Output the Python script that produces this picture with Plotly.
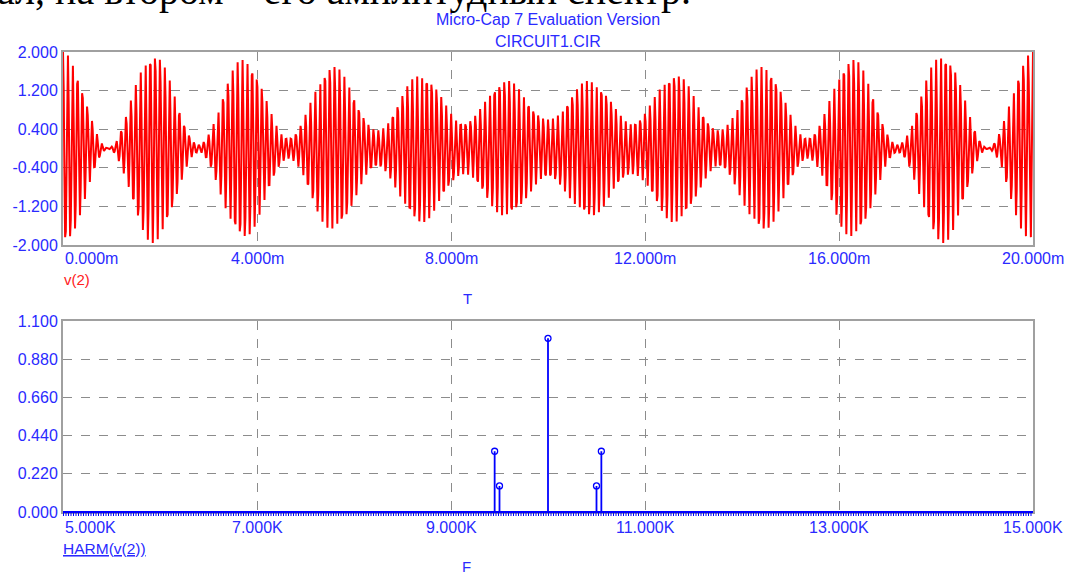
import numpy as np
import plotly.graph_objects as go

# ---------------- data ----------------
# Harmonic spectrum HARM(v(2)) (lower panel): frequency in Hz, amplitude
harm_freq_hz = [9450, 9500, 10000, 10500, 10550]
harm_amp = [0.35, 0.15, 1.00, 0.15, 0.35]

# Upper panel axes
time_range_ms = [0, 20]
time_ticks_ms = [0, 4, 8, 12, 16, 20]
time_tick_labels = ["0.000m", "4.000m", "8.000m", "12.000m", "16.000m", "20.000m"]
v_ticks = [-2.0, -1.2, -0.4, 0.4, 1.2, 2.0]
v_tick_labels = ["-2.000", "-1.200", "-0.400", "0.400", "1.200", "2.000"]

# Lower panel axes
freq_ticks_k = [5, 7, 9, 11, 13, 15]
freq_tick_labels = ["5.000K", "7.000K", "9.000K", "11.000K", "13.000K", "15.000K"]
h_ticks = [0.0, 0.22, 0.44, 0.66, 0.88, 1.10]
h_tick_labels = ["0.000", "0.220", "0.440", "0.660", "0.880", "1.100"]

title_lines = ["Micro-Cap 7 Evaluation Version", "CIRCUIT1.CIR"]
doc_text = "ал, на втором \u2013 его амплитудный спектр."

# v(2) in the time domain is the sum of the spectral lines above
# (simulator output sampled on the transient time grid)
t_s = np.linspace(0, 0.02, 1373)
v2 = np.zeros_like(t_s)
for f, a in zip(harm_freq_hz, harm_amp):
    v2 += a * np.cos(2 * np.pi * f * t_s)

# ---------------- layout geometry (pixels) ----------------
W, H = 1067, 574
ML, MR, MT, MB = 61, 34, 52, 62
PW, PH = W - ML - MR, H - MT - MB


def py(y):
    return 1 - (y - MT) / PH


def px(x):
    return (x - ML) / PW


top_dom = [py(245), 1.0]
bot_dom = [0.0, py(321)]

BLUE_TXT = "#2a2aff"
GRID = "#8c8c8c"
FRAME = "#a0a0a0"
FONT = "Liberation Sans, Arial, sans-serif"
TICK_SIZE = 16

fig = go.Figure()

fig.add_trace(go.Scatter(x=t_s * 1000, y=v2, mode="lines",
                         line=dict(color="#ff0000", width=2),
                         xaxis="x", yaxis="y", showlegend=False,
                         hoverinfo="skip"))

stem_x, stem_y = [], []
for f, a in zip(harm_freq_hz, harm_amp):
    stem_x += [f / 1000, f / 1000, None]
    stem_y += [0, a, None]
fig.add_trace(go.Scatter(x=stem_x, y=stem_y, mode="lines",
                         line=dict(color="#0000ff", width=1.8),
                         xaxis="x2", yaxis="y2", showlegend=False,
                         hoverinfo="skip"))
fig.add_trace(go.Scatter(x=[f / 1000 for f in harm_freq_hz], y=harm_amp,
                         mode="markers",
                         marker=dict(symbol="circle-open", size=6,
                                     color="#0000ff", line=dict(width=1.3)),
                         xaxis="x2", yaxis="y2", showlegend=False,
                         hoverinfo="skip", cliponaxis=False))

ax_common = dict(showgrid=True, gridcolor=GRID, griddash="dash", gridwidth=1,
                 showline=True, linecolor=FRAME, linewidth=2, mirror=True,
                 zeroline=False, ticks="", fixedrange=True)

fig.update_layout(
    width=W, height=H,
    margin=dict(l=ML, r=MR, t=MT, b=MB),
    paper_bgcolor="white", plot_bgcolor="white",
    font=dict(family=FONT, color=BLUE_TXT, size=TICK_SIZE),
    xaxis=dict(domain=[0, 1], anchor="y", range=time_range_ms,
               tickvals=time_ticks_ms, showticklabels=False, **ax_common),
    yaxis=dict(domain=top_dom, anchor="x", range=[-2, 2],
               tickvals=v_ticks, ticktext=v_tick_labels,
               tickfont=dict(size=TICK_SIZE, color=BLUE_TXT), **ax_common),
    xaxis2=dict(domain=[0, 1], anchor="y2", range=[5, 15],
                tickvals=freq_ticks_k, showticklabels=False, **ax_common),
    yaxis2=dict(domain=bot_dom, anchor="x2", range=[0, 1.1],
                tickvals=h_ticks, ticktext=h_tick_labels,
                tickfont=dict(size=TICK_SIZE, color=BLUE_TXT), **ax_common),
)

ann = []
# x tick labels (first one left-aligned as in Micro-Cap)
for i, (v, lab) in enumerate(zip(time_ticks_ms, time_tick_labels)):
    ann.append(dict(x=v, y=py(258), xref="x", yref="paper", text=lab,
                    showarrow=False, xanchor="left" if i == 0 else "center",
                    yanchor="middle", font=dict(size=TICK_SIZE, color=BLUE_TXT)))
for i, (v, lab) in enumerate(zip(freq_ticks_k, freq_tick_labels)):
    ann.append(dict(x=v, y=py(527), xref="x2", yref="paper", text=lab,
                    showarrow=False, xanchor="left" if i == 0 else "center",
                    yanchor="middle", font=dict(size=TICK_SIZE, color=BLUE_TXT)))

# titles
for txt, yy in zip(title_lines, [20, 41]):
    ann.append(dict(x=0.5, y=py(yy), xref="paper", yref="paper", text=txt,
                    showarrow=False, xanchor="center", yanchor="middle",
                    font=dict(size=16, color=BLUE_TXT)))

# axis / curve labels
ann.append(dict(x=px(60), y=py(279), xref="paper", yref="paper", text="v(2)",
                showarrow=False, xanchor="left", yanchor="middle",
                font=dict(size=15, color="#ff2020")))
ann.append(dict(x=px(466), y=py(298), xref="paper", yref="paper", text="T",
                showarrow=False, xanchor="center", yanchor="middle",
                font=dict(size=15, color=BLUE_TXT)))
ann.append(dict(x=px(59), y=py(548), xref="paper", yref="paper",
                text="<u>HARM(v(2))</u>", showarrow=False, xanchor="left",
                yanchor="middle", font=dict(size=15.5, color=BLUE_TXT)))
ann.append(dict(x=px(465), y=py(566), xref="paper", yref="paper", text="F",
                showarrow=False, xanchor="center", yanchor="middle",
                font=dict(size=15, color=BLUE_TXT)))

# clipped document text at the very top (cut by the page edge as in the source)
ann.append(dict(x=px(692), y=py(-9), xref="paper", yref="paper", text=doc_text,
                showarrow=False, xanchor="right", yanchor="middle",
                font=dict(size=40, color="black",
                          family="Liberation Serif, Times New Roman, serif")))

fig.update_layout(annotations=ann)

# blue baseline with the dense harmonic-marker hatch of the HARM plot
fig.add_shape(type="line", xref="paper", yref="paper", x0=0, x1=1,
              y0=bot_dom[0], y1=bot_dom[0],
              line=dict(color="#0000ff", width=2), layer="above")
fig.add_shape(type="line", xref="paper", yref="paper", x0=0, x1=1,
              y0=bot_dom[0] - 2.5 / PH, y1=bot_dom[0] - 2.5 / PH,
              line=dict(color="#0000ff", width=3, dash="1px,1.5px"),
              layer="above")

fig.write_html("out.html")
